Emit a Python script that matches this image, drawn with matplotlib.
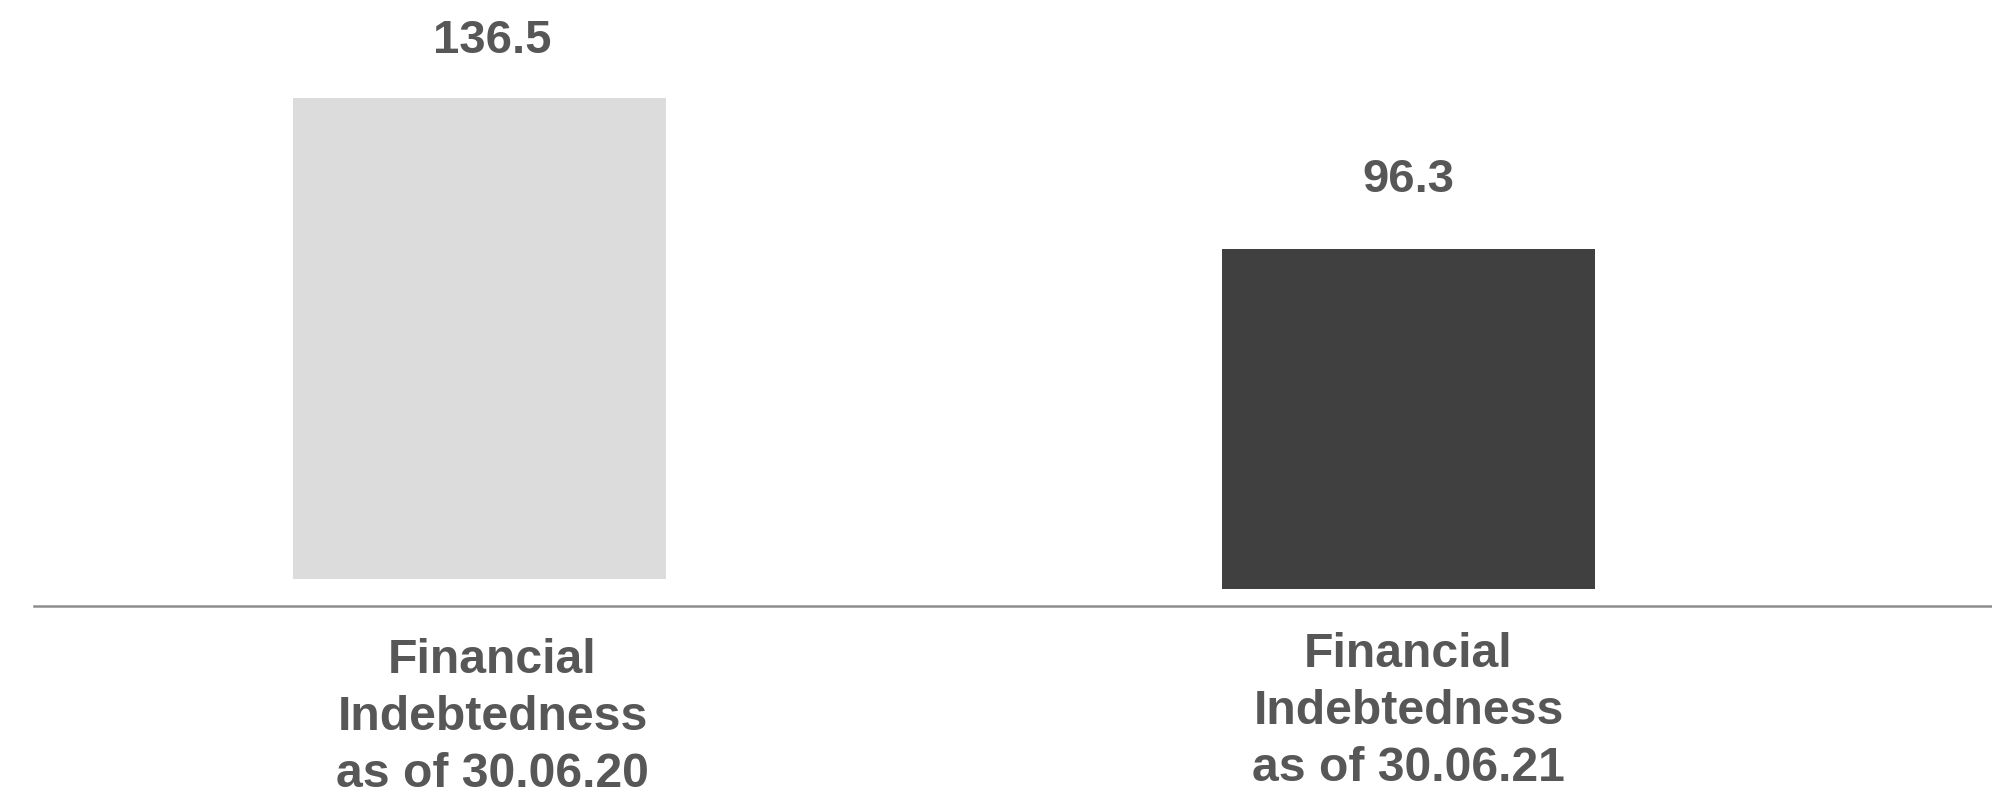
from matplotlib import pyplot as plt

# Financial indebtedness at two reporting dates
CATEGORIES = ["Financial\nIndebtedness\nas of 30.06.20", "Financial\nIndebtedness\nas of 30.06.21"]
VALUES = [136.5, 96.3]
VALUE_LABELS = ["136.5", "96.3"]

BAR_COLORS = ["#DCDCDC", "#404040"]
TEXT_COLOR = "#575757"
LINE_COLOR = "#8E8E8E"
FONT = ["Liberation Sans", "DejaVu Sans"]

# small per-bar layout tweaks (in points / data units) to follow the original slide
BAR_SHIFTS = [0.0, -2.84]
VALUE_OFFSETS = [(9.4, 32.4), (0.0, 41.0)]
CAT_OFFSETS = [(9.4, -130.2), (0.0, -125.9)]  # baseline of the last label line
BASELINE_Y = -7.8


def main():
    fig = plt.figure(figsize=(19.92, 7.96), dpi=100)
    ax = fig.add_axes([0, 0, 1, 1])
    ax.set_xlim(-0.516, 1.628)
    ax.set_ylim(-61.53, 164.16)
    ax.axis("off")

    x = list(range(len(VALUES)))
    ax.bar(x, VALUES, width=0.4015, bottom=BAR_SHIFTS, color=BAR_COLORS, linewidth=0)

    # horizontal base line under the bars
    ax.axhline(BASELINE_Y, xmin=34 / 1992, xmax=1, color=LINE_COLOR, linewidth=1.8)

    for i in x:
        top = BAR_SHIFTS[i] + VALUES[i]
        ax.annotate(VALUE_LABELS[i], (i, top), xytext=VALUE_OFFSETS[i], textcoords="offset points",
                    ha="center", va="baseline", fontsize=34, fontweight="bold",
                    color=TEXT_COLOR, family=FONT)
        ax.annotate(CATEGORIES[i], (i, BASELINE_Y), xytext=CAT_OFFSETS[i], textcoords="offset points",
                    ha="center", va="baseline", multialignment="center", linespacing=1.35,
                    fontsize=34.7, fontweight="bold", color=TEXT_COLOR, family=FONT)

    fig.savefig("out.png", dpi=100)


if __name__ == "__main__":
    main()
